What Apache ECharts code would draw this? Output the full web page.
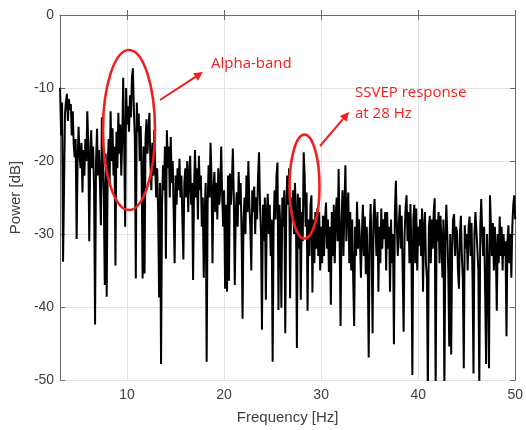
<!DOCTYPE html>
<html><head><meta charset="utf-8">
<script src="https://cdn.jsdelivr.net/npm/echarts@6/dist/echarts.min.js"></script>
<style>html,body{margin:0;padding:0;background:#fff}#c{width:526px;height:430px}</style>
</head><body><div id="c"></div>
<script>
// frequency bins (Hz): start and spacing of the spectrum samples
const freqStart = 3.0;
const freqStep = 0.1;
// power spectrum values (dB), one row per 1 Hz (3.0 ... 50.0 Hz)
const power = [
 -10.0,-10.3,-16.5,-12,-33.8,-24,-13.5,-11.8,-10.8,-14.5,
 -11.5,-13,-12.2,-16.5,-13.2,-17.8,-19.5,-17,-30.7,-20,
 -15.3,-19,-21,-17.5,-24.3,-18.5,-22,-17,-20,-13.2,
 -17.5,-31,-19.5,-15.8,-21,-18,-24,-42.4,-20,-15.6,
 -22,-18.5,-23,-28.8,-14,-20,-25,-37,-19,-38.6,
 -21,-17,-23,-13.2,-20,-15.5,-22,-18,-34.3,-16,
 -21,-13.4,-19,-15,-22,-17,-8.6,-17.5,-29,-10,
 -15,-12.5,-16,-11,-14,-8.5,-7.3,-13,-17,-36.1,
 -12,-16,-13.5,-20,-15.2,-22,-36.1,-18,-35.4,-17,
 -14.3,-19,-16,-13.4,-20,-24,-17.5,-22,-15.7,-21,
 -25,-21,-27,-38.7,-23,-47.8,-26,-20.6,-24,-18,
 -33.4,-15.8,-21,-18,-25,-16.7,-23,-20,-27,-34,
 -22,-26,-21,-24,-19.7,-25,-22,-28,-33.5,-23,
 -21,-25,-20,-27,-22,-19.3,-26,-23,-36.3,-24,
 -18.5,-25,-21,-28,-19.3,-24,-22,-29,-25,-36,
 -27,-23,-47.5,-26,-20.6,-25,-17.5,-22,-34,-24,
 -21.5,-27,-23,-28,-21,-26,-24,-18,-25,-29,
 -24,-37.5,-26,-37.9,-22,-36.4,-21.7,-26,-23,-18.3,
 -25,-37,-27,-24.3,-29,-21.5,-26,-23,-30,-41.6,
 -28,-25,-30,-22,-27,-20,-26,-29,-35,-24,
 -27,-23.5,-30,-25,-28,-22,-18.8,-26,-30,-43.1,
 -26,-31,-25,-39,-27,-24.5,-30,-26,-33,-28,
 -47.5,-29,-24,-28,-22,-20.2,-40.4,-26,-29,-40.1,
 -25,-29,-24,-43.6,-27,-22,-26,-21,-38.8,-25,
 -28,-24,-30,-23,-27,-45.6,-24.5,-32,-25,-39,
 -27,-31,-18.8,-22,-29,-24.3,-40.5,-28,-33,-26,
 -24.7,-38,-28,-34,-27,-32,-26.5,-33,-27,-35,
 -29,-34,-27.5,-33,-28,-25.7,-32,-28,-35.2,-29,
 -39.7,-27,-33,-26,-34,-27.5,-25,-31,-21.1,-30,
 -42.6,-28,-24,-33,-26,-20.6,-31,-26,-24.3,-34,
 -27,-35,-28,-36,-42.6,-29,-33,-25.6,-32,-28,
 -31,-36,-30,-26,-33,-27.6,-35.5,-29,-34,-46.9,
 -30,-25.9,-32,-43.6,-28,-25.2,-29,-33,-27,-37.9,
 -29,-34,-26.5,-32,-28,-30.7,-27,-35,-27,-32,
 -29,-37.9,-28,-34,-30,-45.1,-27,-22.7,-29,-33,
 -28.8,-26,-32,-27.5,-35,-43.4,-30,-26.5,-24.7,-31,
 -27,-34,-25.9,-32,-49.3,-28,-26,-34,-26.5,-35,
 -29,-31.6,-28,-33,-26.5,-37.9,-29,-27,-34,-36,
 -52,-29,-27.5,-34,-28,-32,-27,-25.1,-52,-28,
 -31,-27,-34,-27.5,-31,-36,-28,-52,-31,-26,
 -30,-35,-45.4,-30,-46.5,-32,-28,-27.3,-33,-29,
 -29.7,-35,-37.5,-30,-27.5,-33,-36,-48.4,-28.8,-32,
 -30,-35,-29,-27.6,-33,-28.5,-36,-49.1,-30,-27,
 -27.2,-32,-35,-51,-29,-25.2,-30,-33,-29,-38,
 -47.8,-30,-35,-48.4,-24.7,-29,-33,-28.5,-35,-29,
 -32,-40.5,-30,-34,-27.6,-33,-29,-35,-30,-33,
 -31,-44,-31,-28.8,-34,-30,-36,-29,-26,-24.7,
 -28
];
// axis ranges
const xRange = [3.1, 50];
const yRange = [-50, 0];
const yStep = 10;
// annotation texts
const alphaLabel = 'Alpha-band';
const ssvepLabel = ['SSVEP response', 'at 28 Hz'];

const seriesData = power.map((v, i) => [Math.round((freqStart + i * freqStep) * 10) / 10, v]);

const chart = echarts.init(document.getElementById('c'), null, {renderer: 'canvas'});
const axisCol = '#6a6a6a';
const labelStyle = {color: '#404040', fontSize: 14, fontFamily: 'Liberation Sans, Arial, sans-serif'};
const red = '#f0201e';

function arrow(x1, y1, x2, y2) {
  const ang = Math.atan2(y2 - y1, x2 - x1);
  const L = 9, W = 4.5;
  const bx = x2 - L * Math.cos(ang), by = y2 - L * Math.sin(ang);
  const px = -Math.sin(ang) * W, py = Math.cos(ang) * W;
  return [
    {type: 'line', shape: {x1: x1, y1: y1, x2: bx, y2: by}, style: {stroke: red, lineWidth: 2}, z: 100},
    {type: 'polygon', shape: {points: [[x2, y2], [bx + px, by + py], [bx - px, by - py]]}, style: {fill: red}, z: 100}
  ];
}

const annoText = {fill: red, fontSize: 15, fontFamily: 'Open Sans, Lato, sans-serif'};

chart.setOption({
  animation: false,
  backgroundColor: '#fff',
  grid: {left: 56, right: 6, top: 15, bottom: 48, show: false},
  xAxis: [{
    type: 'value', min: xRange[0], max: xRange[1], splitNumber: 5,
    name: 'Frequency [Hz]', nameLocation: 'middle', nameGap: 30,
    nameTextStyle: {color: '#404040', fontSize: 15, fontFamily: 'Liberation Sans, Arial, sans-serif'},
    axisLine: {show: true, lineStyle: {color: axisCol, width: 1}},
    axisTick: {show: true, inside: true, length: 5, lineStyle: {color: axisCol}},
    axisLabel: Object.assign({showMinLabel: false, margin: 8}, labelStyle),
    splitLine: {show: true, lineStyle: {color: '#e3e3e3', width: 1}}
  }, {
    type: 'value', position: 'top', min: xRange[0], max: xRange[1], splitNumber: 5,
    axisLine: {show: true, lineStyle: {color: axisCol, width: 1}},
    axisTick: {show: true, inside: true, length: 5, lineStyle: {color: axisCol}},
    axisLabel: {show: false}, splitLine: {show: false}
  }],
  yAxis: [{
    type: 'value', min: yRange[0], max: yRange[1], interval: yStep,
    name: 'Power [dB]', nameLocation: 'middle', nameGap: 34,
    nameTextStyle: {color: '#404040', fontSize: 15, fontFamily: 'Liberation Sans, Arial, sans-serif'},
    axisLine: {show: true, lineStyle: {color: axisCol, width: 1}},
    axisTick: {show: true, inside: true, length: 5, lineStyle: {color: axisCol}},
    axisLabel: Object.assign({margin: 6}, labelStyle),
    splitLine: {show: true, lineStyle: {color: '#e3e3e3', width: 1}}
  }, {
    type: 'value', position: 'right', min: yRange[0], max: yRange[1], interval: yStep,
    axisLine: {show: true, lineStyle: {color: axisCol, width: 1}},
    axisTick: {show: true, inside: true, length: 5, lineStyle: {color: axisCol}},
    axisLabel: {show: false}, splitLine: {show: false}
  }],
  series: [{
    type: 'line', data: seriesData, showSymbol: false, symbol: 'none',
    lineStyle: {color: '#000', width: 2}, clip: true, z: 5
  }],
  graphic: [
    {type: 'ellipse', shape: {cx: 129, cy: 130, rx: 26, ry: 80}, style: {fill: null, stroke: red, lineWidth: 2.6}, z: 100},
    {type: 'ellipse', shape: {cx: 304.5, cy: 186.5, rx: 15, ry: 52}, style: {fill: null, stroke: red, lineWidth: 2.6}, z: 100},
    ...arrow(160, 100, 203, 72),
    ...arrow(320, 146, 349, 112),
    {type: 'text', left: 211, top: 56, style: Object.assign({text: alphaLabel}, annoText), z: 100},
    {type: 'text', left: 355, top: 82, style: Object.assign({text: ssvepLabel.join('\n'), lineHeight: 21}, annoText), z: 100}
  ]
});
</script></body></html>
